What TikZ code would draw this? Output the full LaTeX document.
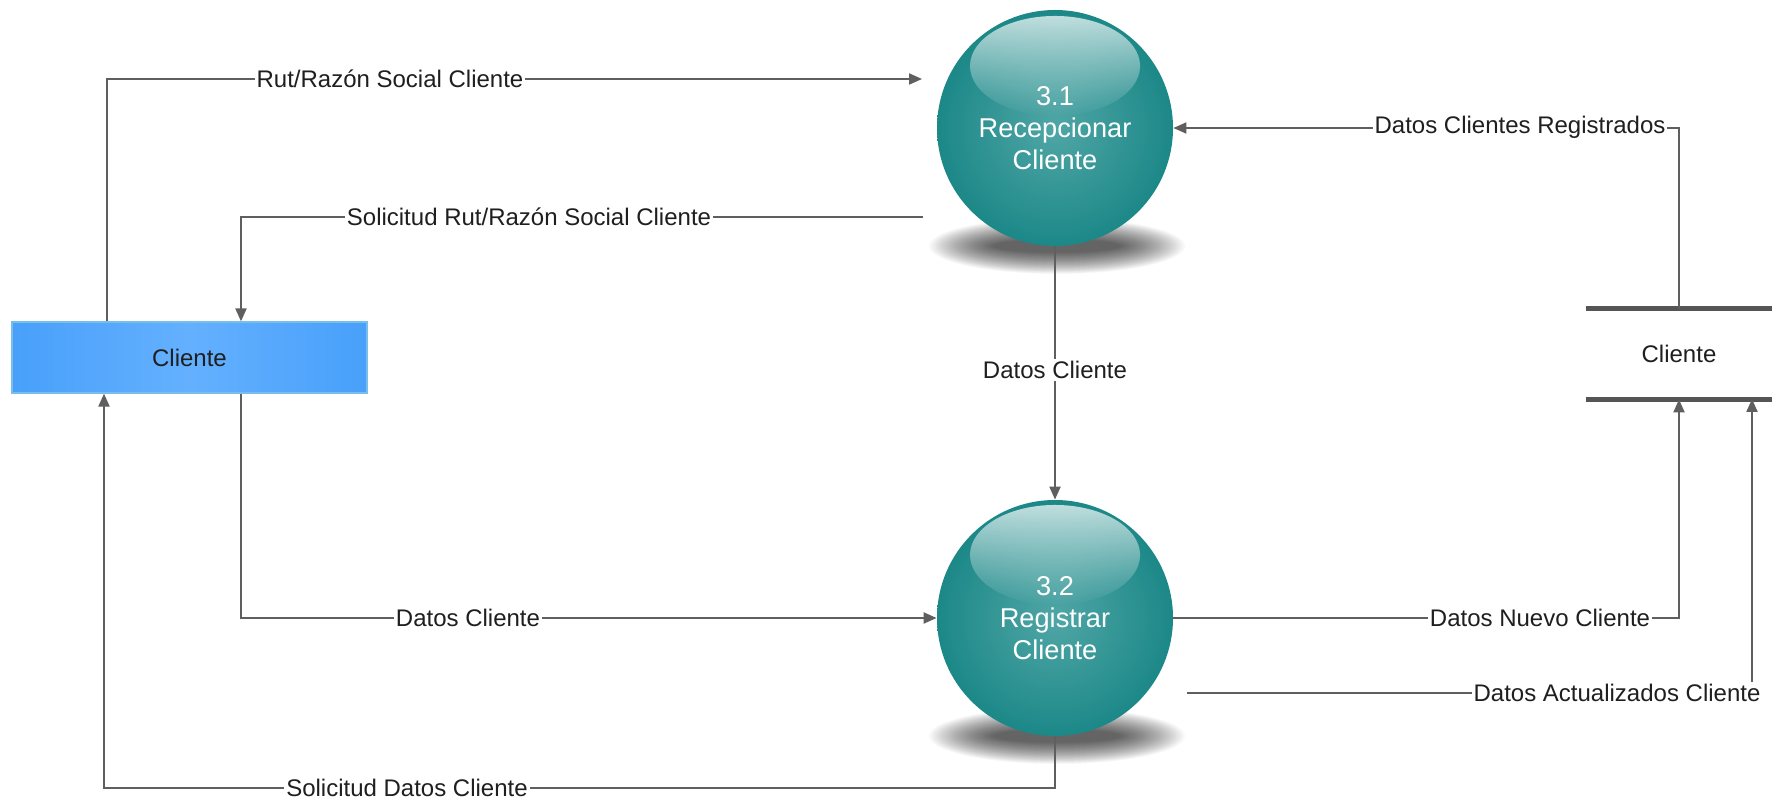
\documentclass[tikz,border=0pt]{standalone}
\usepackage{fontspec}
\setmainfont{Liberation Sans}
\usetikzlibrary{arrows.meta,fadings}
\definecolor{linec}{RGB}{95,95,95}
\definecolor{barc}{RGB}{85,85,85}
\definecolor{tealedge}{RGB}{0,98,98}
\definecolor{tealmid}{RGB}{22,132,132}
\definecolor{tealctr}{RGB}{80,166,166}
\definecolor{blueside}{RGB}{72,160,250}
\definecolor{bluemid}{RGB}{100,176,255}
\definecolor{blueborder}{RGB}{120,190,235}
\pgfdeclareradialshading{ballsh}{\pgfpoint{0bp}{0bp}}{color(0bp)=(tealctr); color(28bp)=(tealmid); color(44bp)=(tealmid!80!tealedge); color(50bp)=(tealedge)}
\begin{document}
\begin{tikzpicture}[x=0.5pt,y=-0.5pt,
  flow/.style={draw=linec, line width=1pt, -{Triangle[length=6.5pt,width=5.5pt]}},
  lbl/.style={fill=white, inner sep=1pt, text=black!88, font=\fontsize{12}{14}\selectfont},
  proc/.style={circle, minimum size=118pt, inner sep=0pt, shading=ballsh},
  proctext/.style={text=white, align=center, font=\fontsize{13.6}{16}\selectfont},
  ext/.style={rectangle, minimum width=177.5pt, minimum height=35.5pt, inner sep=0pt,
    draw=blueborder, line width=0.6pt, left color=blueside, right color=blueside, middle color=bluemid,
    text=black!88, font=\fontsize{12}{14}\selectfont},
  store/.style={rectangle, minimum width=93pt, minimum height=45pt, inner sep=0pt,
    text=black!88, font=\fontsize{12}{14}\selectfont},
  bar/.style={draw=barc, line width=2.5pt},
  gloss/.style={fill=white, path fading=south, opacity=0.72},
  shadowlayer/.style={fill=black, opacity=0.028}]
\useasboundingbox (0,0) rectangle (1772,801);
\fill[white] (0,0) rectangle (1772,801);
% shadows
\foreach \i in {0,...,29} {
  \fill[shadowlayer] (1057,246) ellipse ({128-\i*2.25} and {28-\i*0.75});
  \fill[shadowlayer] (1057,736) ellipse ({128-\i*2.25} and {28-\i*0.75});
}
% processes
\node[proc] (c1) at (1055,128) {};
\fill[gloss] (1055,66) ellipse (85 and 50);
\node[proctext] (t1) at (c1.center) {3.1\\Recepcionar\\Cliente};
\node[proc] (c2) at (1055,618) {};
\fill[gloss] (1055,555) ellipse (85 and 50);
\node[proctext] (t2) at (c2.center) {3.2\\Registrar\\Cliente};
% external entity
\node[ext] (ext) at (189.5,357.5) {Cliente};
% data store
\node[store] (st) at (1679,354) {Cliente};
\draw[bar] (st.north west) -- (st.north east);
\draw[bar] (st.south west) -- (st.south east);
% coordinates
\coordinate (k1) at (107,79);
\coordinate (e1) at (922,79);
\coordinate (s2) at (923,217);
\coordinate (k2) at (241,217);
\coordinate (k5) at (241,617);
\coordinate (d7) at (1187,693);
\coordinate (s7) at (1752,399);
\coordinate (k8) at (104,788);
% connectors
\draw[flow] (ext.north -| k1) -- (k1) -- (e1);
\draw[flow] (s2) -- (k2) -- (ext.north -| k2);
\draw[flow] (st.north) |- (c1.east);
\draw[flow] (c1.south) -- (c2.north);
\draw[flow] (ext.south -| k5) |- (c2.west);
\draw[flow] (c2.east) -| (st.south);
\draw[flow] (d7) -| (s7);
\draw[flow] (c2.south) |- (k8) -- (ext.south -| k8);
% labels
\node[lbl] (l1) at (390,79) {Rut/Razón Social Cliente};
\node[lbl] (l2) at (529,217) {Solicitud Rut/Razón Social Cliente};
\node[lbl] (l3) at (1520,127) {Datos Clientes Registrados};
\node[lbl] (l4) at (1055,370) {Datos Cliente};
\node[lbl] (l5) at (468,618) {Datos Cliente};
\node[lbl] (l6) at (1540,618) {Datos Nuevo Cliente};
\node[lbl] (l7) at (1617,693) {Datos Actualizados Cliente};
\node[lbl] (l8) at (407,788) {Solicitud Datos Cliente};
\end{tikzpicture}
\end{document}
